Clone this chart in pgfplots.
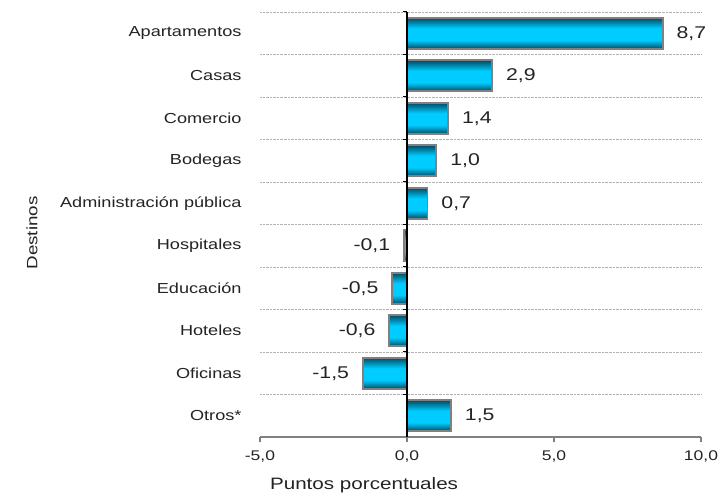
\documentclass[border=0pt]{standalone}
\usepackage{fontspec}
\setmainfont{Liberation Sans}[FakeStretch=1.25]
\usepackage{pgfplots}
\pgfplotsset{compat=1.18}
\definecolor{bardark}{RGB}{0,75,100}
\definecolor{barcyan}{RGB}{0,204,255}
\definecolor{txt}{RGB}{35,35,35}
\pgfdeclareverticalshading{barshade}{100bp}{color(0bp)=(bardark); color(25bp)=(bardark); color(39bp)=(barcyan); color(58bp)=(barcyan); color(75bp)=(bardark); color(100bp)=(bardark)}
\pgfplotsset{bar/.style={draw=gray, line width=1.8bp, shading=barshade, bar shift=0pt}}
\begin{document}
\begin{tikzpicture}
\useasboundingbox (-260bp,-56bp) rectangle (460bp,437bp);
\begin{axis}[
  scale only axis,
  width=441bp, height=425bp,
  at={(0,0)}, anchor=south west,
  xmin=-5, xmax=10,
  ymin=-0.5, ymax=9.5,
  axis x line*=bottom,
  axis y line*=left,
  y axis line style={draw=none},
  x axis line style={draw=gray, line width=1.2bp, -},
  xtick={-5,0,5,10},
  tick align=outside,
  xtick style={draw=gray, line width=1.2bp},
  major tick length=5bp,
  ytick={0,1,2,3,4,5,6,7,8,9},
  yticklabels={Otros*,Oficinas,Hoteles,Educación,Hospitales,Administración pública,Bodegas,Comercio,Casas,Apartamentos},
  ytick style={draw=none},
  minor ytick={0.5,1.5,2.5,3.5,4.5,5.5,6.5,7.5,8.5,9.5},
  ymajorgrids=false,
  yminorgrids=true,
  minor grid style={draw=gray!60, densely dotted, line width=0.6bp},
  minor y tick style={draw=none},
  /pgf/number format/.cd, use comma, fixed, fixed zerofill, precision=1, assume math mode=true,
  /pgfplots/.cd,
  ticklabel style={font=\fontsize{14bp}{16bp}\selectfont, text=txt},
  yticklabel style={font=\fontsize{14.5bp}{17bp}\selectfont, anchor=east, xshift=-10bp},
  xticklabel style={yshift=-5bp},
  xlabel={Puntos porcentuales},
  xlabel style={at={(axis description cs:0.236,0)}, anchor=center, yshift=-48bp, font=\fontsize{16.5bp}{18bp}\selectfont, text=txt},
  ylabel={Destinos},
  ylabel style={at={(axis description cs:-0.517,0.48)}, anchor=center, font=\fontsize{15bp}{17bp}\selectfont, text=txt},
  xbar,
  bar width=31bp,
  nodes near coords,
  nodes near coords align={horizontal},
  every node near coord/.append style={font=\fontsize{17bp}{19bp}\selectfont, text=txt, inner xsep=13bp, inner ysep=0pt},
  clip=false,
]
\addplot[bar] coordinates {(8.7,9)};
\addplot[bar] coordinates {(2.9,8)};
\addplot[bar] coordinates {(1.4,7)};
\addplot[bar] coordinates {(1.0,6)};
\addplot[bar] coordinates {(0.7,5)};
\addplot[bar] coordinates {(-0.1,4)};
\addplot[bar] coordinates {(-0.5,3)};
\addplot[bar] coordinates {(-0.6,2)};
\addplot[bar] coordinates {(-1.5,1)};
\addplot[bar] coordinates {(1.5,0)};
\draw[black, line width=1.3bp] (axis cs:0,-0.5) -- (axis cs:0,9.5);
\pgfplotsinvokeforeach{0.5,1.5,2.5,3.5,4.5,5.5,6.5,7.5,8.5,9.5}{
  \draw[black, line width=1bp] (axis cs:0,#1) -- ++(-4bp,0bp);
}
\end{axis}
\end{tikzpicture}
\end{document}
